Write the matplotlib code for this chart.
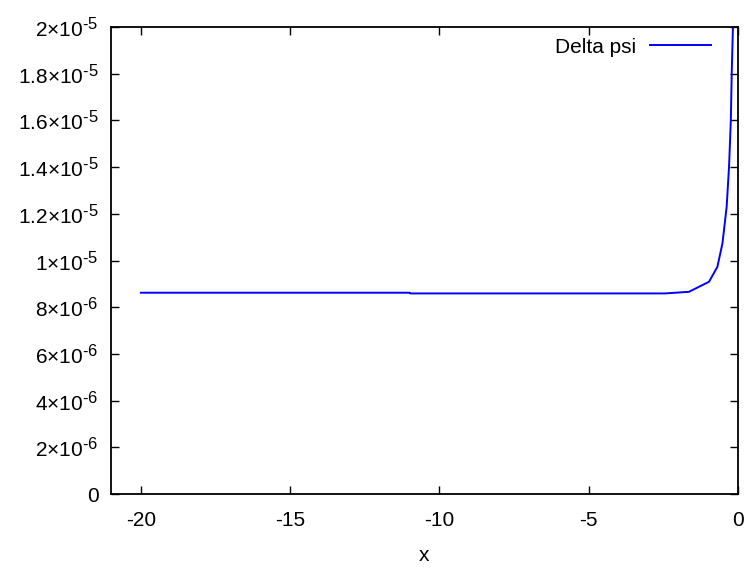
import math
import matplotlib
matplotlib.use("Agg")
import matplotlib.pyplot as plt
import matplotlib._mathtext as _mt
from matplotlib.ticker import FuncFormatter, MultipleLocator

plt.rcParams['font.family'] = ['Liberation Sans', 'DejaVu Sans']
plt.rcParams['mathtext.fontset'] = 'custom'
plt.rcParams['mathtext.rm'] = 'Liberation Sans'
plt.rcParams['mathtext.it'] = 'Liberation Sans:italic'
_mt.SHRINK_FACTOR = 0.8

x_vals = [-20.0, -11.0, -10.98, -2.44, -1.64, -0.97, -0.69, -0.52, -0.38, -0.30, -0.24, -0.21, -0.17, -0.15]
psi_vals = [8.62e-6, 8.62e-6, 8.59e-6, 8.59e-6, 8.66e-6, 9.09e-6, 9.73e-6, 10.74e-6,
            12.30e-6, 14.02e-6, 16.02e-6, 18.02e-6, 20.0e-6, 21.0e-6]
series_label = "Delta psi"
x_label = "x"

FS = 15

fig = plt.figure(figsize=(7.46, 5.69), dpi=100)
ax = fig.add_axes([111/746, 75/569, 627/746, 467/569])
ax.plot(x_vals, psi_vals, color='#0000ff', lw=1.4, label=series_label)
ax.set_xlim(-21, 0)
ax.set_ylim(0, 2e-5)
ax.xaxis.set_major_locator(MultipleLocator(5))
ax.yaxis.set_major_locator(MultipleLocator(2e-6))


def yfmt(v, pos):
    if abs(v) < 1e-12:
        return '0'
    exp = int(math.floor(math.log10(abs(v)) + 1e-9))
    m = v / 10**exp
    ms = ('%.1f' % m).rstrip('0').rstrip('.')
    return r'$\mathregular{%s{\times}10^{\text{%d}}}$' % (ms, exp)


def xfmt(v, pos):
    return '%d' % round(v)


ax.yaxis.set_major_formatter(FuncFormatter(yfmt))
ax.xaxis.set_major_formatter(FuncFormatter(xfmt))
ax.tick_params(direction='in', length=6, width=1.0, top=True, right=True,
               labelsize=FS, color='black')
ax.tick_params(axis='x', pad=12)
ax.tick_params(axis='y', pad=9)
for s in ax.spines.values():
    s.set_linewidth(1.3)
ax.set_xlabel(x_label, fontsize=FS, labelpad=12)
leg = ax.legend(loc='upper right', bbox_to_anchor=(0.9697, 0.995), frameon=False,
                fontsize=FS, handlelength=2.9, handletextpad=0.68,
                markerfirst=False, borderaxespad=0.0)
fig.savefig('out.png', dpi=100)
